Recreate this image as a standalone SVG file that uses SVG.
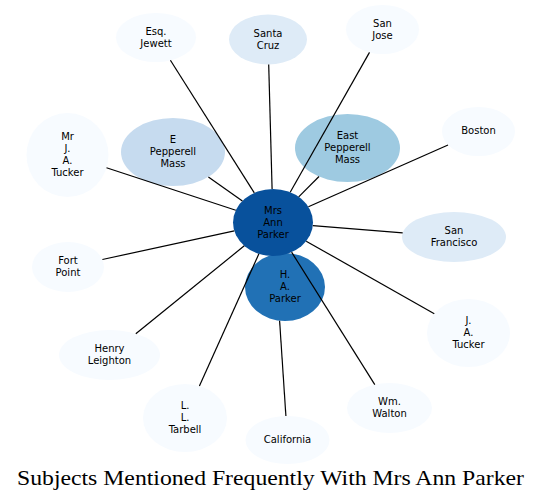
<svg xmlns="http://www.w3.org/2000/svg" width="541" height="501" viewBox="0 0 541 501">
<style>
.l{font-family:"DejaVu Sans","Liberation Sans",sans-serif;font-size:10px;fill:#000;text-anchor:middle}
.c0{fill:#f7fbff}.c1{fill:#deebf7}.c2{fill:#c6dbef}.c3{fill:#9ecae1}.c4{fill:#2171b5}.c5{fill:#08519c}
.e line{stroke:#000;stroke-width:1.2}
.t{font-family:"Liberation Serif","DejaVu Serif",serif;font-size:21px;fill:#000;text-anchor:middle}
</style>
<rect width="541" height="501" fill="#fff"/>
<g id="nodes">
<g id="n-esq-jewett"><ellipse class="c0" cx="156" cy="37.5" rx="40" ry="24.5"/><text class="l" x="156" y="34.5">Esq.</text><text class="l" x="156" y="46.5">Jewett</text></g>
<g id="n-santa-cruz"><ellipse class="c1" cx="268" cy="39.5" rx="39" ry="25"/><text class="l" x="268" y="36.5">Santa</text><text class="l" x="268" y="48.5">Cruz</text></g>
<g id="n-san-jose"><ellipse class="c0" cx="382.5" cy="29.5" rx="36.5" ry="24.5"/><text class="l" x="382.5" y="26.5">San</text><text class="l" x="382.5" y="38.5">Jose</text></g>
<g id="n-boston"><ellipse class="c0" cx="478.5" cy="131.5" rx="36.5" ry="24.5"/><text class="l" x="478.5" y="134">Boston</text></g>
<g id="n-east-pepperell-mass"><ellipse class="c3" cx="347.5" cy="148" rx="52.5" ry="34"/><text class="l" x="347.5" y="139">East</text><text class="l" x="347.5" y="151">Pepperell</text><text class="l" x="347.5" y="163">Mass</text></g>
<g id="n-e-pepperell-mass"><ellipse class="c2" cx="173" cy="152" rx="52" ry="34"/><text class="l" x="173" y="143">E</text><text class="l" x="173" y="155">Pepperell</text><text class="l" x="173" y="167">Mass</text></g>
<g id="n-mr-j-a-tucker"><ellipse class="c0" cx="67.5" cy="155" rx="41" ry="42"/><text class="l" x="67.5" y="140">Mr</text><text class="l" x="67.5" y="152">J.</text><text class="l" x="67.5" y="164">A.</text><text class="l" x="67.5" y="176">Tucker</text></g>
<g id="n-san-francisco"><ellipse class="c1" cx="454" cy="237" rx="52" ry="25"/><text class="l" x="454" y="234">San</text><text class="l" x="454" y="246">Francisco</text></g>
<g id="n-fort-point"><ellipse class="c0" cx="68" cy="267" rx="36" ry="25"/><text class="l" x="68" y="264">Fort</text><text class="l" x="68" y="276">Point</text></g>
<g id="n-henry-leighton"><ellipse class="c0" cx="109.5" cy="355" rx="50.5" ry="25"/><text class="l" x="109.5" y="352">Henry</text><text class="l" x="109.5" y="364">Leighton</text></g>
<g id="n-l-l-tarbell"><ellipse class="c0" cx="185" cy="418" rx="42" ry="34"/><text class="l" x="185" y="409">L.</text><text class="l" x="185" y="421">L.</text><text class="l" x="185" y="433">Tarbell</text></g>
<g id="n-california"><ellipse class="c0" cx="287.5" cy="440" rx="42" ry="24"/><text class="l" x="287.5" y="443">California</text></g>
<g id="n-wm-walton"><ellipse class="c0" cx="389.5" cy="408" rx="42.5" ry="25"/><text class="l" x="389.5" y="405">Wm.</text><text class="l" x="389.5" y="417">Walton</text></g>
<g id="n-j-a-tucker"><ellipse class="c0" cx="468.5" cy="333" rx="41.5" ry="34"/><text class="l" x="468.5" y="324">J.</text><text class="l" x="468.5" y="336">A.</text><text class="l" x="468.5" y="348">Tucker</text></g>
<g id="n-h-a-parker"><ellipse class="c4" cx="285" cy="287" rx="40" ry="34"/><text class="l" x="285" y="278">H.</text><text class="l" x="285" y="290">A.</text><text class="l" x="285" y="302">Parker</text></g>
<g id="n-mrs-ann-parker"><ellipse class="c5" cx="273" cy="222.5" rx="40" ry="33.5"/><text class="l" x="273" y="213.5">Mrs</text><text class="l" x="273" y="225.5">Ann</text><text class="l" x="273" y="237.5">Parker</text></g>
</g>
<g id="connectors" class="e">
<line x1="254.3" y1="192.9" x2="170.4" y2="60.3"/>
<line x1="272.1" y1="189" x2="268.7" y2="64.5"/>
<line x1="290.2" y1="192.2" x2="369.5" y2="52.4"/>
<line x1="308.4" y1="206.8" x2="448" y2="145"/>
<line x1="298.7" y1="196.8" x2="319" y2="176.5"/>
<line x1="242.4" y1="200.9" x2="208.4" y2="176.9"/>
<line x1="235.8" y1="210.3" x2="106.5" y2="167.8"/>
<line x1="312.8" y1="225.7" x2="402.7" y2="232.9"/>
<line x1="234.3" y1="230.9" x2="102.4" y2="259.5"/>
<line x1="244.3" y1="245.8" x2="135.8" y2="333.7"/>
<line x1="258.9" y1="253.8" x2="199.4" y2="386.1"/>
<line x1="279.6" y1="320.8" x2="285.9" y2="416"/>
<line x1="291.6" y1="252.1" x2="374.8" y2="384.6"/>
<line x1="306.2" y1="241.2" x2="434.3" y2="313.7"/>
</g>
<text class="t" x="270.5" y="485" textLength="507" lengthAdjust="spacingAndGlyphs">Subjects Mentioned Frequently With Mrs Ann Parker</text>
</svg>
